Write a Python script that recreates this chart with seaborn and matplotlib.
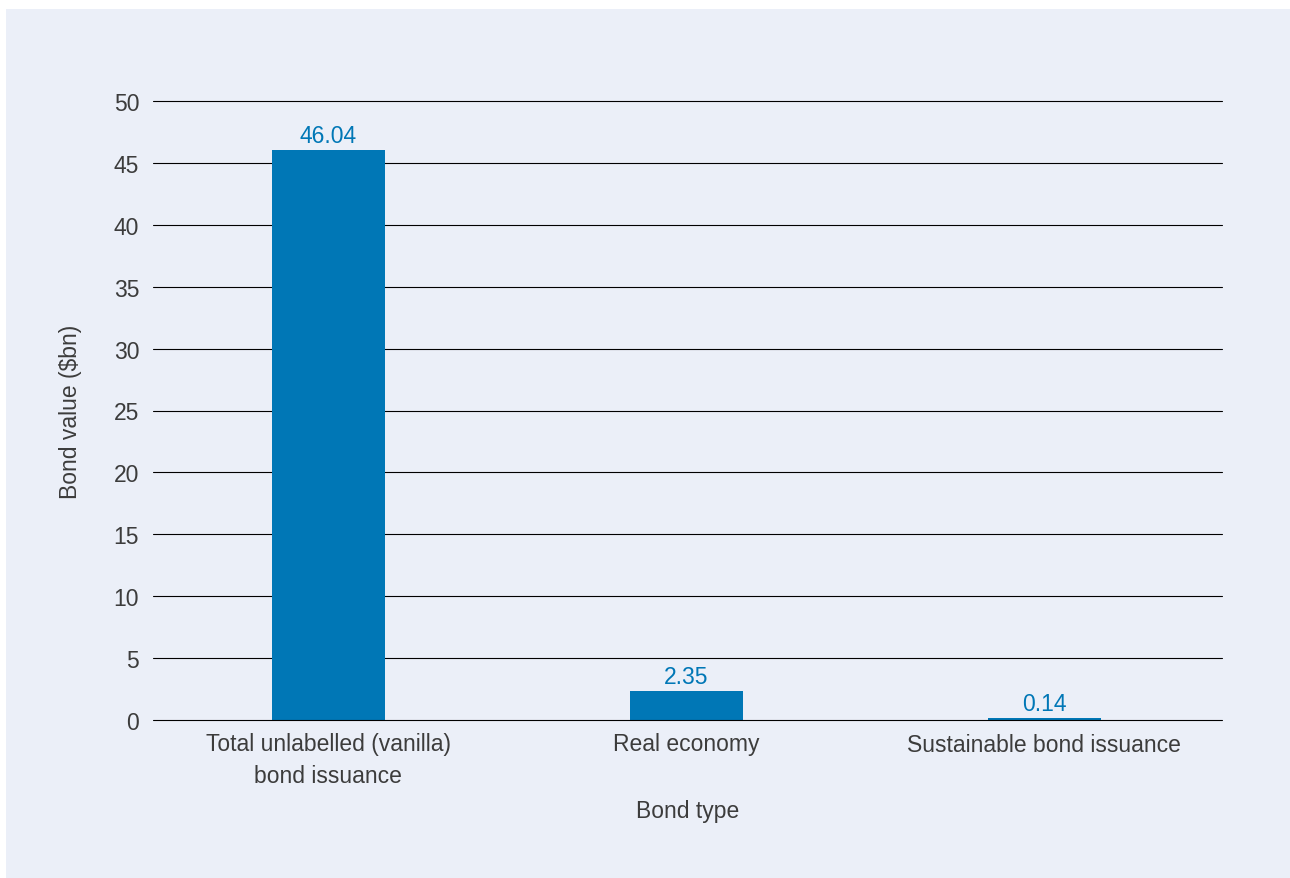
import matplotlib
matplotlib.use("Agg")
import matplotlib.pyplot as plt
import seaborn as sns
import pandas as pd
from matplotlib.patches import Rectangle

categories = ["Total unlabelled (vanilla)\nbond issuance", "Real economy", "Sustainable bond issuance"]
values = [46.04, 2.35, 0.14]
value_labels = ["46.04", "2.35", "0.14"]
yticks = [0, 5, 10, 15, 20, 25, 30, 35, 40, 45, 50]

sns.set_theme(style="white")
plt.rcParams['font.family'] = ['Liberation Sans', 'DejaVu Sans']

BG = "#EBEFF8"
BAR = "#0077B6"
TXT = "#3C3C3C"
FS = 16.5

fig = plt.figure(figsize=(12.9, 8.79), dpi=100, facecolor="white")
fig.patches.append(Rectangle((6/1290, 0), 1 - 6/1290, 1 - 10/879, transform=fig.transFigure,
                             facecolor=BG, edgecolor="none", zorder=-10))
ax = fig.add_axes([153/1290, 1 - 721/879, (1222-153)/1290, (721-102)/879])
ax.set_facecolor(BG)

df = pd.DataFrame({"cat": categories, "val": values})
sns.barplot(data=df, x="cat", y="val", color=BAR, saturation=1, width=0.315, ax=ax, zorder=3,
            linewidth=0, edgecolor="none")

ax.set_ylim(0, 50)
ax.set_yticks(yticks)
ax.set_xlim(-0.49, -0.49 + 1069/358)
for y in yticks:
    ax.axhline(y, color="#000000", lw=0.8, zorder=4 if y == 0 else 2, clip_on=False)
for s in ax.spines.values():
    s.set_visible(False)
ax.tick_params(axis="both", length=0, labelsize=FS, colors=TXT, pad=10)
ax.tick_params(axis="x", pad=9)
for t in ax.get_xticklabels():
    t.set_linespacing(1.45)
ax.set_xlabel("Bond type", fontsize=FS, color=TXT, labelpad=9)
ax.set_ylabel("Bond value ($bn)", fontsize=FS, color=TXT, labelpad=23)

for i, (v, lab) in enumerate(zip(values, value_labels)):
    ax.annotate(lab, (i, v), xytext=(0, 2), textcoords="offset points", ha="center", va="bottom",
                fontsize=FS, color=BAR, zorder=4)

fig.savefig("out.png", dpi=100, facecolor="white")
